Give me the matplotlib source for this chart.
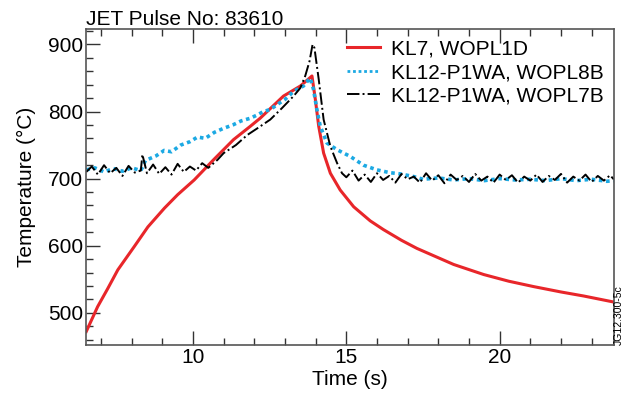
import matplotlib.pyplot as plt
from matplotlib.ticker import MultipleLocator

plt.rcParams['font.family'] = ['Liberation Sans', 'DejaVu Sans']

# KL7, WOPL1D (red)
red_t = [6.52, 6.89, 7.22, 7.55, 8.09, 8.53, 9.07, 9.5, 10.04, 10.67, 11.32, 11.87, 12.19,
         12.95, 13.5, 13.88, 13.99, 14.1, 14.26, 14.48, 14.8, 15.24, 15.78, 16.21, 16.8,
         17.3, 17.85, 18.5, 19.48, 20.3, 21.11, 22.0, 22.74, 23.72]
red_T = [472, 509, 536, 564, 599, 628, 656, 676, 698, 728, 758, 778, 790,
         823, 838, 853, 818, 778, 738, 708, 683, 658, 637, 624, 608,
         596, 585, 572, 557, 547, 539, 531, 525, 516]

# KL12-P1WA, WOPL8B (blue)
blue_t = [6.52, 6.8, 7.1, 7.4, 7.7, 8.0, 8.3, 8.45, 8.6, 8.8, 9.06, 9.3, 9.6, 9.9, 10.15,
          10.4, 10.7, 11.0, 11.3, 11.57, 11.87, 12.1, 12.3, 12.52, 12.8, 13.0, 13.28, 13.6,
          13.82, 13.93, 14.04, 14.15, 14.37, 14.7, 15.13, 15.56, 16.0, 16.4, 16.76, 17.2,
          17.5, 18.0, 18.5, 19.0, 19.5, 20.0, 20.5, 21.0, 21.5, 22.0, 22.5, 23.0, 23.5, 23.72]
blue_T = [713, 716, 710, 715, 711, 716, 712, 727, 730, 734, 742, 740, 750, 755, 762,
          760, 769, 775, 780, 786, 790, 795, 800, 803, 812, 818, 830, 838,
          850, 833, 803, 778, 753, 743, 733, 720, 713, 709, 707, 703,
          699, 701, 698, 700, 697, 700, 698, 699, 697, 700, 697, 699, 696, 697]

# KL12-P1WA, WOPL7B (black)
black_t = [6.52, 6.7, 6.9, 7.1, 7.3, 7.5, 7.7, 7.9, 8.1, 8.3, 8.35, 8.5, 8.7, 8.9, 9.1,
           9.3, 9.5, 9.7, 9.9, 10.1, 10.3, 10.5, 10.8, 11.0, 11.4, 11.77, 12.1, 12.52,
           12.9, 13.28, 13.5, 13.66, 13.8, 13.9, 13.96, 14.1, 14.26, 14.48, 14.7,
           14.86, 15.0, 15.2, 15.4, 15.6, 15.8, 16.0, 16.2, 16.4, 16.6, 16.8, 17.0,
           17.2, 17.4, 17.6, 17.8, 18.0, 18.2, 18.4, 18.6, 18.8, 19.0, 19.2, 19.4, 19.6,
           19.8, 20.0, 20.2, 20.4, 20.6, 20.8, 21.0, 21.2, 21.4, 21.6, 21.8, 22.0, 22.2,
           22.4, 22.6, 22.8, 23.0, 23.2, 23.4, 23.6, 23.72]
black_T = [710, 718, 706, 720, 708, 716, 704, 719, 709, 712, 736, 708, 721, 707, 717,
           706, 722, 710, 718, 712, 723, 716, 728, 738, 750, 765, 775, 788,
           805, 823, 835, 853, 875, 900, 895, 848, 788, 748, 723,
           708, 702, 712, 697, 706, 695, 708, 698, 704, 694, 707, 699,
           703, 694, 708, 697, 705, 693, 706, 698, 704, 695, 707, 697, 703,
           694, 706, 698, 705, 694, 703, 697, 706, 695, 704, 698, 707, 694,
           703, 697, 706, 695, 704, 697, 705, 699]

fig = plt.figure(figsize=(6.25, 4.03), dpi=100)
ax = fig.add_axes([0.138, 0.144, 0.844, 0.784])

ax.plot(red_t, red_T, color='#e8262a', lw=2.2, label='KL7, WOPL1D')
ax.plot(blue_t, blue_T, color='#1ca9e3', lw=2.6, ls=(0, (1, 1)), label='KL12-P1WA, WOPL8B')
ax.plot(black_t, black_T, color='black', lw=1.4, ls='-.', label='KL12-P1WA, WOPL7B')

ax.set_xlim(6.52, 23.72)
ax.set_ylim(452, 923)
ax.xaxis.set_major_locator(MultipleLocator(5))
ax.xaxis.set_minor_locator(MultipleLocator(1))
ax.yaxis.set_major_locator(MultipleLocator(100))
ax.yaxis.set_minor_locator(MultipleLocator(20))
ax.tick_params(which='both', direction='in', top=True, right=False, labelsize=15, colors='#333333',
               labelcolor='black', pad=2)
ax.tick_params(which='major', length=10, width=1)
ax.tick_params(which='minor', length=5, width=1)
for s in ax.spines.values():
    s.set_color('#555555')
    s.set_linewidth(1.2)

ax.set_xlabel('Time (s)', fontsize=15, labelpad=2)
ax.set_ylabel('Temperature (\u00b0C)', fontsize=15, labelpad=9)
ax.set_title('JET Pulse No: 83610', loc='left', fontsize=15, pad=3)

leg = ax.legend(loc='upper right', bbox_to_anchor=(1.0, 1.0), frameon=False, fontsize=15,
                handlelength=1.6, handletextpad=0.5, labelspacing=0.22, borderaxespad=0.1)
leg.get_lines()[1].set_linewidth(2)

fig.text(0.99, 0.145, 'JG12.300-5c', rotation=90, fontsize=7.5, ha='center', va='bottom')

fig.savefig('out.png', dpi=100)
